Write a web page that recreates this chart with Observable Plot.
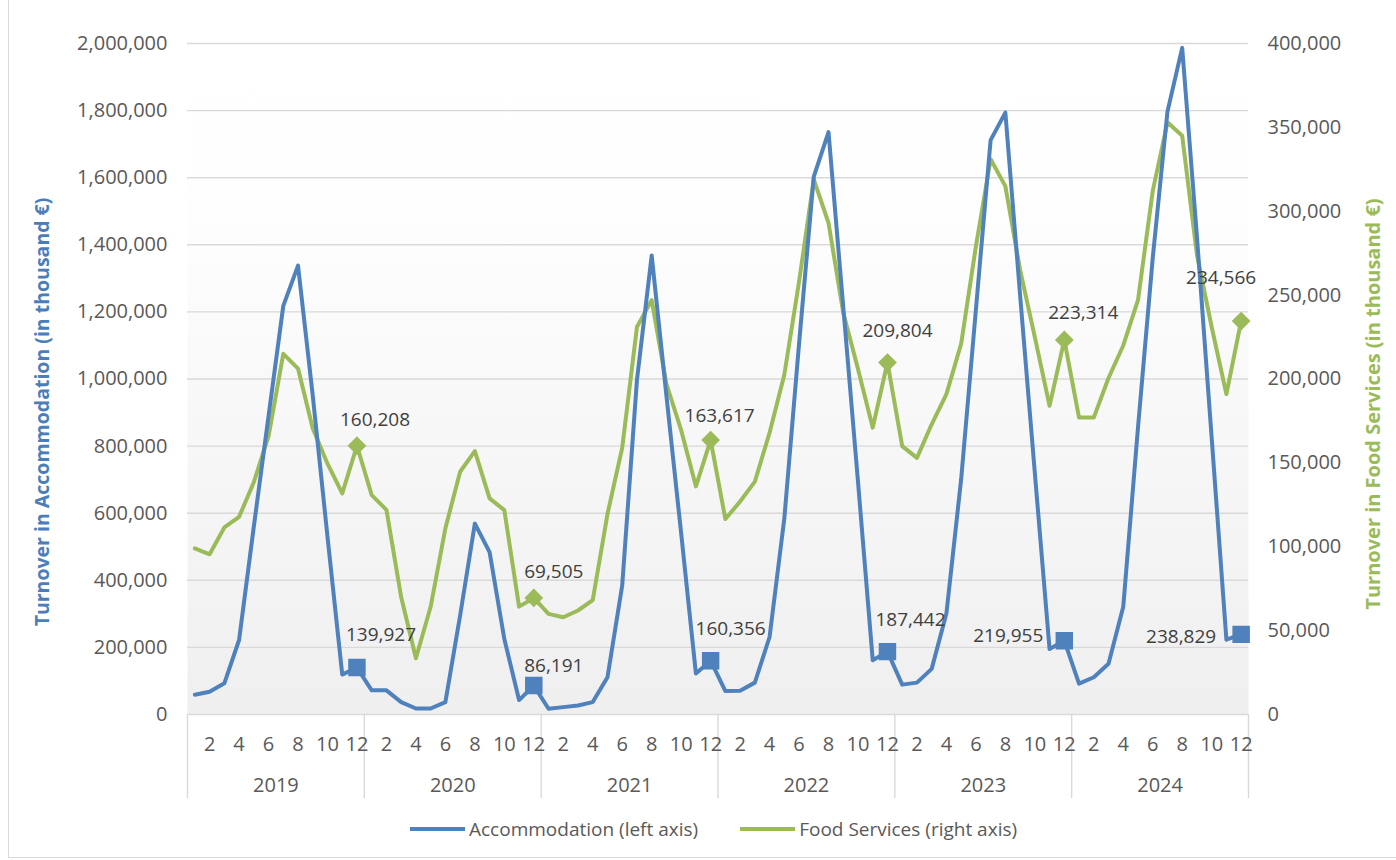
<!DOCTYPE html>
<html><head><meta charset="utf-8">
<script src="https://cdn.jsdelivr.net/npm/d3@7"></script>
<script src="https://cdn.jsdelivr.net/npm/@observablehq/plot@0.6"></script>
<style>
body{margin:0;background:#fff;font-family:"Open Sans",sans-serif;}
#wrap{position:relative;width:1396px;height:860px;overflow:hidden;}
#chart{position:absolute;left:0;top:0;}
#border{position:absolute;left:8px;top:-2px;width:1400px;height:860px;border:1px solid #d9d9d9;box-sizing:border-box;pointer-events:none;}
#legend{position:absolute;left:410px;top:816px;display:flex;align-items:center;font-size:19px;color:#595959;white-space:nowrap;}
.sw{display:inline-block;width:55px;height:4px;margin-right:4px;}
.item{display:flex;align-items:center;margin-right:42px;}
</style></head><body>
<div id="wrap"><div id="chart"></div>
<div id="legend">
  <div class="item"><span class="sw" style="background:#4f81bd"></span>Accommodation (left axis)</div>
  <div class="item"><span class="sw" style="background:#9bbb59"></span>Food Services (right axis)</div>
</div>
<div id="border"></div></div>
<script>
const years = [2019, 2020, 2021, 2022, 2023, 2024];
const monthTickLabels = [2, 4, 6, 8, 10, 12];
const leftTicks = [0, 200000, 400000, 600000, 800000, 1000000, 1200000, 1400000, 1600000, 1800000, 2000000];
const rightTicks = [0, 50000, 100000, 150000, 200000, 250000, 300000, 350000, 400000];

// Turnover in Accommodation (thousand €), monthly Jan..Dec per year
const accommodation = [
  59000, 68000, 93000, 222000, 560000, 890000, 1218000, 1338000, 950000, 530000, 119000, 139927,
  72000, 72000, 37000, 18000, 18000, 37000, 295000, 569000, 484000, 225000, 43000, 86191,
  17000, 22000, 27000, 37000, 111000, 385000, 997000, 1368000, 950000, 540000, 122000, 160356,
  70000, 71000, 95000, 231000, 584000, 1105000, 1603000, 1736000, 1215000, 694000, 162000, 187442,
  89000, 95000, 136000, 301000, 701000, 1206000, 1712000, 1794000, 1250000, 720000, 195000, 219955,
  92000, 111000, 151000, 321000, 855000, 1360000, 1797000, 1987000, 1425000, 825000, 223000, 238829
];
// Turnover in Food Services (thousand €)
const foodServices = [
  99000, 95500, 111500, 117800, 138500, 166000, 215000, 206200, 170500, 149500, 131800, 160208,
  130800, 122000, 70000, 33500, 64200, 111000, 144700, 157000, 128800, 121800, 64300, 69505,
  60000, 58000, 62000, 68200, 119500, 159000, 231000, 247000, 197000, 169500, 136000, 163617,
  116500, 127000, 138800, 168000, 202500, 258000, 319000, 293000, 239500, 206000, 171000, 209804,
  160000, 153000, 173000, 191000, 221000, 279000, 331000, 315000, 265000, 225000, 184000, 223314,
  177000, 177000, 200600, 220000, 247000, 312000, 353000, 345000, 274000, 231000, 191000, 234566
];

// label offsets (px) for December value labels
const accLabelOffsets = [[24, -33], [20, -20], [20, -32], [23, -32], [-56, -5], [-60, 3]];
const foodLabelOffsets = [[18, -26], [20, -26], [9, -24], [10, -32], [19, -27], [-20, -43]];

const BLUE = "#4f81bd", GREEN = "#9bbb59";
const ratio = 2000000 / 400000;
const fmt = d3.format(",");

const rows = years.flatMap((yr, yi) => d3.range(12).map(m => ({
  i: yi * 12 + m + 1, year: yr, month: m + 1,
  acc: accommodation[yi * 12 + m], food: foodServices[yi * 12 + m]
})));
const decRows = rows.filter(d => d.month === 12);
const monthTickIdx = years.flatMap((yr, yi) => monthTickLabels.map(m => yi * 12 + m));
const yearCenters = years.map((yr, yi) => yi * 12 + 6.5);
const boundaries = d3.range(years.length + 1).map(k => k * 12 + 0.5);

const accLabelMarks = decRows.map((d, k) => Plot.text([d], {
  x: "i", y: "acc", text: d => fmt(d.acc), dx: accLabelOffsets[k][0], dy: accLabelOffsets[k][1],
  fill: "#404040", fontSize: 19
}));
const foodLabelMarks = decRows.map((d, k) => Plot.text([d], {
  x: "i", y: d => d.food * ratio, text: d => fmt(d.food), dx: foodLabelOffsets[k][0], dy: foodLabelOffsets[k][1],
  fill: "#404040", fontSize: 19
}));

const chart = Plot.plot({
  width: 1396, height: 800,
  marginLeft: 187, marginRight: 148, marginTop: 43, marginBottom: 86,
  style: {fontFamily: "'Open Sans', sans-serif", fontSize: "20px", color: "#595959", background: "transparent", overflow: "visible"},
  x: {type: "linear", domain: [0.5, 72.5]},
  y: {domain: [0, 2000000]},
  marks: [
    Plot.frame({fill: "url(#bgGrad)", stroke: "none"}),
    Plot.ruleY(leftTicks, {stroke: "#d9d9d9", strokeWidth: 1.4}),
    Plot.axisX(boundaries, {tickSize: 84, tickFormat: () => "", stroke: "#d9d9d9", strokeWidth: 1.4, label: null}),
    Plot.axisX(monthTickIdx, {tickSize: 0, tickPadding: 22, tickFormat: d => String((d - 1) % 12 + 1), fontSize: 20, label: null}),
    Plot.axisX(yearCenters, {tickSize: 0, tickPadding: 63, tickFormat: d => String(years[Math.floor(d / 12)]), fontSize: 20, label: null}),
    Plot.axisY(leftTicks, {tickSize: 0, tickPadding: 20, tickFormat: fmt, fontSize: 20, label: null}),
    Plot.axisY(rightTicks, {y: d => d * ratio, anchor: "right", tickSize: 0, tickPadding: 19, tickFormat: fmt, fontSize: 20, label: null}),
    Plot.text(["Turnover in Accommodation (in thousand €)"], {frameAnchor: "left", textAnchor: "middle", dx: -145, dy: 33, rotate: -90, fill: "#4a7ebb", fontWeight: "bold", fontSize: 19.5}),
    Plot.text(["Turnover in Food Services (in thousand €)"], {frameAnchor: "right", textAnchor: "middle", dx: 125, dy: 25, rotate: -90, fill: GREEN, fontWeight: "bold", fontSize: 20}),
    Plot.line(rows, {x: "i", y: d => d.food * ratio, stroke: GREEN, strokeWidth: 4, strokeLinejoin: "round", strokeLinecap: "round"}),
    Plot.line(rows, {x: "i", y: "acc", stroke: BLUE, strokeWidth: 4, strokeLinejoin: "round", strokeLinecap: "round"}),
    Plot.dot(decRows, {x: "i", y: d => d.food * ratio, symbol: "diamond2", r: 7.5, fill: GREEN, stroke: GREEN}),
    Plot.dot(decRows, {x: "i", y: "acc", symbol: "square", r: 9, fill: BLUE, stroke: BLUE}),
    ...foodLabelMarks,
    ...accLabelMarks
  ]
});

const ns = "http://www.w3.org/2000/svg";
const defs = document.createElementNS(ns, "defs");
defs.innerHTML = `<linearGradient id="bgGrad" x1="0" y1="0" x2="0" y2="1">
  <stop offset="0" stop-color="#ffffff"/><stop offset="0.24" stop-color="#fefefe"/>
  <stop offset="1" stop-color="#efefef"/></linearGradient>`;
chart.insertBefore(defs, chart.firstChild);
document.getElementById("chart").appendChild(chart);
</script>
</body></html>
